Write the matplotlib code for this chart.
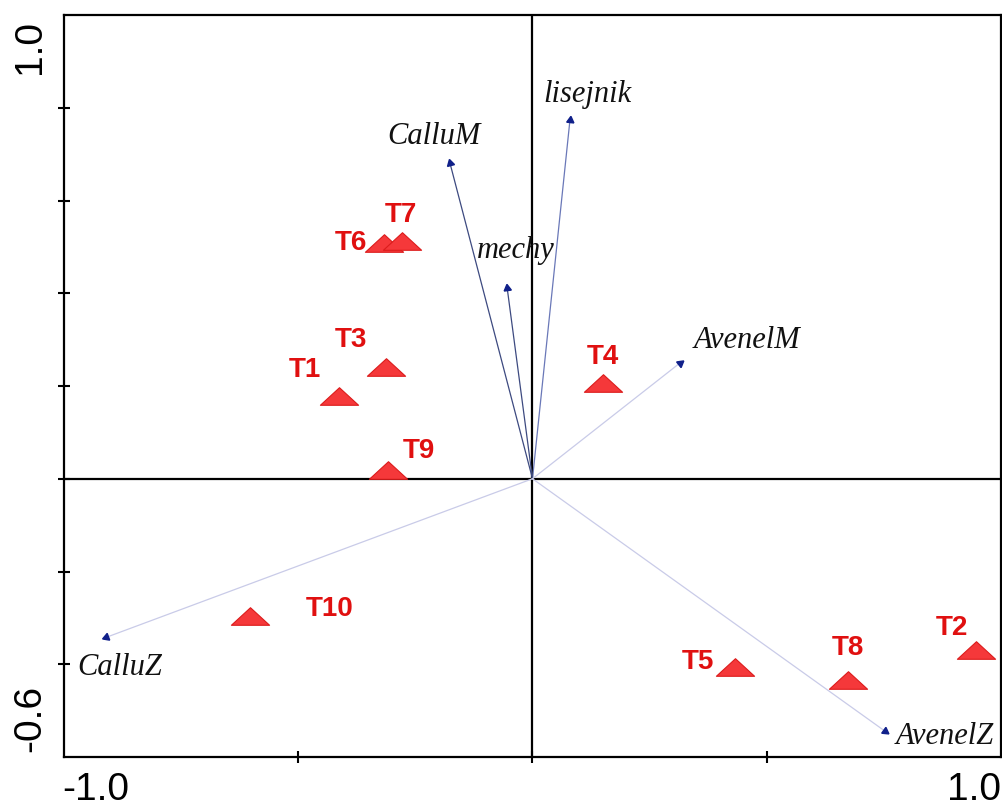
import numpy as np
import matplotlib
matplotlib.use('Agg')
import matplotlib.pyplot as plt
from matplotlib.path import Path

# sample scores (triangles)
sites = ['T1', 'T2', 'T3', 'T4', 'T5', 'T6', 'T7', 'T8', 'T9', 'T10']
site_x = [-0.412, 0.947, -0.312, 0.150, 0.433, -0.318, -0.278, 0.674, -0.308, -0.604]
site_y = [0.178, -0.369, 0.240, 0.206, -0.406, 0.508, 0.512, -0.434, 0.019, -0.296]

# species / variable arrows
species = ['CalluM', 'lisejnik', 'mechy', 'AvenelM', 'AvenelZ', 'CalluZ']
spec_x = [-0.176, 0.080, -0.054, 0.314, 0.752, -0.910]
spec_y = [0.680, 0.774, 0.411, 0.249, -0.544, -0.342]

# label offsets (pixels) relative to points
site_off = [(-35, 26), (-24, 22), (-35, 27), (0, 26), (-37, 5),
            (-33, 0), (-1, 26), (0, 32), (31, 19), (80, 7)]
spec_off = [(-16, 27), (17, 25), (9, 38), (67, 23), (60, -5), (14, -30)]
spec_line = ['#3d4a80', '#6a78b8', '#3d4a80', '#c9cbe8', '#c9cbe8', '#c9cbe8']

fig = plt.figure(figsize=(10.03, 8.10), dpi=100)
ax = fig.add_axes([64 / 1003, 1 - 757 / 810, (1001 - 64) / 1003, (757 - 15) / 810])
ax.set_xlim(-1.0, 1.0)
ax.set_ylim(-0.6, 1.0)

ax.axhline(0, color='black', lw=1.6, zorder=1)
ax.axvline(0, color='black', lw=1.6, zorder=1)

# arrows: thin line + small navy head
sx = 469.5
sy = 463.75
for name, x, y, c, off in zip(species, spec_x, spec_y, spec_line, spec_off):
    ax.plot([0, x], [0, y], color=c, lw=0.9, zorder=2)
    ang = np.degrees(np.arctan2(y * sy, x * sx))
    ax.plot(x, y, marker=(3, 0, ang - 90), ms=6, color='#10208a',
            mec='#10208a', zorder=3)
    ax.annotate(name, (x, y), xytext=off, textcoords='offset pixels',
                ha='center', va='center', fontsize=22, style='italic',
                family='Liberation Serif', color='#111111')

# flattened triangle marker
tri = Path([(-1, -0.46), (1, -0.46), (0, 0.46), (-1, -0.46)],
           [Path.MOVETO, Path.LINETO, Path.LINETO, Path.CLOSEPOLY])
ax.plot(site_x, site_y, ls='none', marker=tri, ms=27.5, color='#f5383a',
        mec='#dc1c1c', mew=0.8, zorder=4)
for name, x, y, off in zip(sites, site_x, site_y, site_off):
    ax.annotate(name, (x, y), xytext=off, textcoords='offset pixels',
                ha='center', va='center', fontsize=20, fontweight='bold',
                family='Liberation Sans', color='#e01010', zorder=5)

for s in ax.spines.values():
    s.set_linewidth(1.6)
    s.set_color('black')

ax.set_xticks([-0.5, 0, 0.5])
ax.set_yticks(np.arange(-0.4, 0.81, 0.2))
ax.set_xticklabels([])
ax.set_yticklabels([])
ax.tick_params(direction='inout', length=8, width=1.5, top=False, right=False)

# end labels only, as in the original
fig.text(62 / 1003, 1 - 790 / 810, '-1.0', ha='left', va='center',
         fontsize=28, family='Liberation Sans')
fig.text(1001 / 1003, 1 - 790 / 810, '1.0', ha='right', va='center',
         fontsize=28, family='Liberation Sans')
fig.text(30 / 1003, 1 - 20 / 810, '1.0', ha='center', va='top', rotation=90,
         fontsize=28, family='Liberation Sans')
fig.text(30 / 1003, 1 - 752 / 810, '-0.6', ha='center', va='bottom', rotation=90,
         fontsize=28, family='Liberation Sans')

fig.savefig('out.png', dpi=100)
